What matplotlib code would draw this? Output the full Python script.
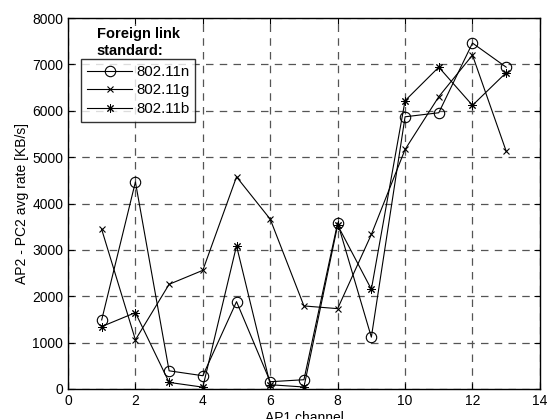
import numpy as np
import matplotlib.pyplot as plt

plt.rcParams['font.family'] = ['Liberation Sans', 'DejaVu Sans']

channels = [1, 2, 3, 4, 5, 6, 7, 8, 9, 10, 11, 12, 13]
rate_n = [1490, 4465, 392, 286, 1884, 157, 200, 3583, 1118, 5870, 5957, 7460, 6940]
rate_g = [3441, 1060, 2258, 2559, 4575, 3662, 1791, 1733, 3333, 5165, 6303, 7200, 5128]
rate_b = [1346, 1647, 142, 40, 3088, 92, 43, 3533, 2150, 6217, 6940, 6117, 6822]

fig = plt.figure(figsize=(5.47, 4.19), dpi=100)
ax = fig.add_axes([0.1243, 0.0716, 0.8627, 0.8854])

ax.plot(channels, rate_n, color='black', lw=0.8, marker='o', ms=7.5,
        mfc='none', mew=0.8, label='802.11n')
ax.plot(channels, rate_g, color='black', lw=0.8, marker='x', ms=4,
        mew=0.8, label='802.11g')
ax.plot(channels, rate_b, color='black', lw=0.8, marker=(8, 2, 0), ms=6,
        mew=0.7, label='802.11b')

ax.set_xlim(0, 14)
ax.set_ylim(0, 8000)
ax.set_xticks(np.arange(0, 15, 2))
ax.set_yticks(np.arange(0, 8001, 1000))
ax.grid(True, color='#555555', linestyle=(0, (6, 5)), lw=0.9)
ax.tick_params(direction='in', top=True, right=True, labelsize=10, length=4)
for s in ax.spines.values():
    s.set_linewidth(1.0)

ax.set_xlabel('AP1 channel', fontsize=10, labelpad=2)
ax.set_ylabel('AP2 - PC2 avg rate [KB/s]', fontsize=10, labelpad=2)

leg = ax.legend(loc='upper left', bbox_to_anchor=(0.028, 0.890), fontsize=10.8,
                frameon=True, fancybox=False, edgecolor='black',
                handlelength=3.0, borderpad=0.4, labelspacing=0.3,
                handletextpad=0.25, borderaxespad=0)
leg.get_frame().set_linewidth(1.0)
ax.text(0.061, 0.975, 'Foreign link\nstandard:', transform=ax.transAxes,
        fontsize=10.5, fontweight='bold', va='top', ha='left',
        linespacing=1.25,
        bbox=dict(facecolor='white', edgecolor='none', pad=1))

fig.savefig('out.png', dpi=100)
